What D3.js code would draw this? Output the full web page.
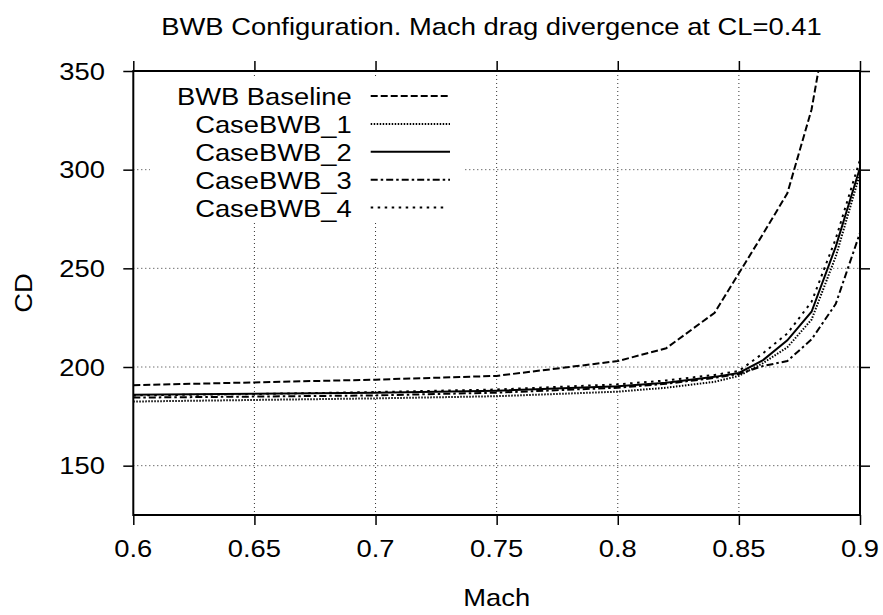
<!DOCTYPE html>
<html>
<head>
<meta charset="utf-8">
<script src="https://cdn.jsdelivr.net/npm/d3@7"></script>
<style>
  html, body { margin: 0; padding: 0; background: #fff; }
  svg { display: block; }
  text { font-family: "Liberation Sans", Arial, sans-serif; fill: #000; }
</style>
</head>
<body>
<svg id="chart" width="883" height="615"></svg>
<script>
// Drag coefficient (counts) versus Mach number at CL = 0.41
const machBaseline = [0.6, 0.65, 0.7, 0.75, 0.8, 0.82, 0.84, 0.85, 0.86, 0.87, 0.88, 0.89];
const cdBaseline   = [190.8, 192.2, 193.6, 195.5, 203, 209.5, 227.5, 247.5, 267.5, 288, 330.5, 400];

const machCases = [0.6, 0.65, 0.7, 0.75, 0.8, 0.82, 0.84, 0.85, 0.86, 0.87, 0.88, 0.89, 0.9];
const cdCase1 = [182.5, 183.3, 184.1, 185.2, 187.5, 189.5, 192.5, 195.5, 202, 210, 224, 256, 298];
const cdCase2 = [186, 186.4, 186.9, 188, 190.2, 192, 195, 197, 203.5, 213.5, 228, 261, 301];
const cdCase3 = [184.5, 185, 185.6, 187, 189.5, 191.5, 194.5, 196.5, 200.5, 203, 214, 232, 268];
const cdCase4 = [185.6, 186.3, 187.3, 188.6, 191.2, 193.2, 196, 198, 207, 217, 233, 265, 305];

const seriesNames = ["BWB Baseline", "CaseBWB_1", "CaseBWB_2", "CaseBWB_3", "CaseBWB_4"];

const xTicks = [0.6, 0.65, 0.7, 0.75, 0.8, 0.85, 0.9];
const yTicks = [150, 200, 250, 300, 350];

const titleText = "BWB Configuration. Mach drag divergence at CL=0.41";
const xLabel = "Mach";
const yLabel = "CD";

// line styles, one per series
const dashStyles = ["7,3", "1.5,1.5", null, "7,3,2.5,3", "2.5,4.5"];

const series = [
  { mach: machBaseline, cd: cdBaseline },
  { mach: machCases, cd: cdCase1 },
  { mach: machCases, cd: cdCase2 },
  { mach: machCases, cd: cdCase3 },
  { mach: machCases, cd: cdCase4 }
];

const svg = d3.select("#chart");
const plot = { left: 133.3, right: 860, top: 71, bottom: 515 };
const fontSize = 24;
const stretch = 1.14;

const x = d3.scaleLinear().domain([0.6, 0.9]).range([plot.left, plot.right]);
const y = d3.scaleLinear().domain([125, 350]).range([plot.bottom, plot.top]);

// text helper: slightly widened sans-serif glyphs
function label(parent, tx, ty, str, anchor, rotate) {
  const g = parent.append("g")
    .attr("transform", `translate(${tx},${ty})` + (rotate ? ` rotate(${rotate})` : ""));
  g.append("text")
    .attr("transform", `scale(${stretch},1)`)
    .attr("text-anchor", anchor)
    .attr("font-size", fontSize)
    .text(str);
  return g;
}

// grid
const grid = svg.append("g").attr("stroke", "#333").attr("stroke-width", 1)
  .attr("stroke-dasharray", "1,3");
grid.selectAll("line.gx").data(xTicks.slice(1, -1)).join("line")
  .attr("x1", d => x(d)).attr("x2", d => x(d))
  .attr("y1", plot.top).attr("y2", plot.bottom);
grid.selectAll("line.gy").data(yTicks.filter(d => d > 125 && d < 350)).join("line")
  .attr("x1", plot.left).attr("x2", plot.right)
  .attr("y1", d => y(d)).attr("y2", d => y(d));

// legend backdrop (opaque key)
const key = { textRight: 351.7, lineX0: 370.7, lineX1: 450, row0: 96, rowGap: 27.9 };
svg.append("rect")
  .attr("x", 150).attr("y", 78).attr("width", 315).attr("height", 145)
  .attr("fill", "#fff");

// data lines
svg.append("clipPath").attr("id", "plotClip").append("rect")
  .attr("x", plot.left).attr("y", plot.top)
  .attr("width", plot.right - plot.left).attr("height", plot.bottom - plot.top);

const line = d3.line().x(d => x(d[0])).y(d => y(d[1]));
const lines = svg.append("g").attr("clip-path", "url(#plotClip)");
series.forEach((s, i) => {
  lines.append("path")
    .datum(s.mach.map((m, j) => [m, s.cd[j]]))
    .attr("d", line)
    .attr("fill", "none")
    .attr("stroke", "#000")
    .attr("stroke-width", 2)
    .attr("stroke-linejoin", "miter")
    .attr("stroke-dasharray", dashStyles[i]);
});

// axes: ticks on all four sides, pointing outward
const tickLen = 10;
const axBottom = svg.append("g").attr("transform", `translate(0,${plot.bottom})`)
  .call(d3.axisBottom(x).tickValues(xTicks).tickSize(tickLen).tickFormat(""));
const axTop = svg.append("g").attr("transform", `translate(0,${plot.top})`)
  .call(d3.axisTop(x).tickValues(xTicks).tickSize(tickLen).tickFormat(""));
const axLeft = svg.append("g").attr("transform", `translate(${plot.left},0)`)
  .call(d3.axisLeft(y).tickValues(yTicks).tickSize(tickLen).tickFormat(""));
const axRight = svg.append("g").attr("transform", `translate(${plot.right},0)`)
  .call(d3.axisRight(y).tickValues(yTicks).tickSize(tickLen).tickFormat(""));
[axBottom, axTop, axLeft, axRight].forEach(a => {
  a.select(".domain").remove();
  a.selectAll(".tick line").attr("stroke", "#000").attr("stroke-width", 1.5);
});

// frame
svg.append("rect")
  .attr("x", plot.left).attr("y", plot.top)
  .attr("width", plot.right - plot.left).attr("height", plot.bottom - plot.top)
  .attr("fill", "none").attr("stroke", "#000").attr("stroke-width", 2);

// tick labels
xTicks.forEach(t => label(svg, x(t), 557, String(t), "middle"));
yTicks.forEach(t => label(svg, 105, y(t) + 8.5, String(t), "end"));

// titles
label(svg, 491.5, 35, titleText, "middle");
label(svg, (plot.left + plot.right) / 2, 606, xLabel, "middle");
label(svg, 32, (plot.top + plot.bottom) / 2, yLabel, "middle", -90);

// legend entries
seriesNames.forEach((name, i) => {
  const ly = key.row0 + i * key.rowGap;
  label(svg, key.textRight, ly + 9, name, "end");
  svg.append("line")
    .attr("x1", key.lineX0).attr("x2", i === 4 ? key.lineX1 - 5 : key.lineX1)
    .attr("y1", ly).attr("y2", ly)
    .attr("stroke", "#000").attr("stroke-width", 2)
    .attr("stroke-dasharray", dashStyles[i]);
});
</script>
</body>
</html>
